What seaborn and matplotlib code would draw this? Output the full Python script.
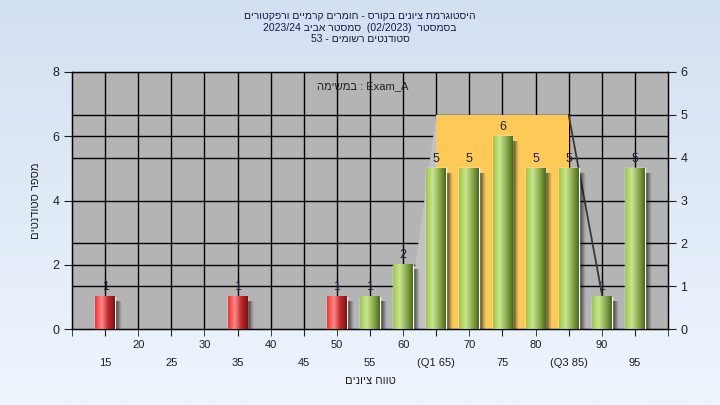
import numpy as np
import pandas as pd
import seaborn as sns
import matplotlib.pyplot as plt
from matplotlib.colors import LinearSegmentedColormap

# grade histogram values
grades = [15, 35, 50, 55, 60, 65, 70, 75, 80, 85, 90, 95]
counts = [1, 1, 1, 1, 2, 5, 5, 6, 5, 5, 1, 5]
pass_grade = 55

# box (quartiles) drawn on the right-hand axis scale
q1, q3 = 65, 85
box_top = 5
whisker_lo, whisker_hi = 60.5, 91

lower_ticks = [15, 25, 35, 45, 55, 65, 75, 85, 95]
lower_labels = ["15", "25", "35", "45", "55", "(Q1 65)", "75", "(Q3 85)", "95"]
upper_ticks = [10, 20, 30, 40, 50, 60, 70, 80, 90, 100]
upper_labels = ["", "20", "30", "40", "50", "60", "70", "80", "90", ""]

# hebrew text, already in visual (left-to-right) order
title_lines = [
    "היסטוגרמת ציונים בקורס - חומרים קרמיים ורפקטורים"[::-1],
    "2023/24 " + "אביב"[::-1] + " " + "סמסטר"[::-1] + "  (02/2023)  " + "בסמסטר"[::-1],
    "53 - " + "רשומים"[::-1] + " " + "סטודנטים"[::-1],
]
xlabel = "טווח ציונים"[::-1]
ylabel = "מספר סטודנטים"[::-1]
task_text = "במשימה"[::-1] + " : Exam_A"

sns.set_style("ticks")
plt.rcParams["font.family"] = ["Liberation Sans", "DejaVu Sans"]

fig = plt.figure(figsize=(7.2, 4.05), dpi=100)

# light blue gradient background
bg = fig.add_axes([0, 0, 1, 1], zorder=-5)
bg_cmap = LinearSegmentedColormap.from_list("bg", ["#d3e0f2", "#eef5fd"])
bg.imshow(np.linspace(0, 1, 256)[:, None], cmap=bg_cmap, aspect="auto", extent=[0, 1, 0, 1])
bg.axis("off")

ax = fig.add_axes([72 / 720, 1 - 329 / 405, 596 / 720, 257 / 405])
ax.set_facecolor("#b4b4b4")

df = pd.DataFrame({
    "grade": grades,
    "count": counts,
    "band": ["fail" if g < pass_grade else "pass" for g in grades],
})
sns.barplot(data=df, x="grade", y="count", hue="band", native_scale=True,
            palette={"fail": "#e03030", "pass": "#96bf4a"}, width=0.6,
            dodge=False, legend=False, ax=ax, zorder=4)
bars = list(ax.patches)

scale = 8 / 6  # right axis -> left axis

# grid lines (left ticks + right ticks)
for v in [2, 4, 6]:
    ax.axhline(v, color="black", lw=1, zorder=1)
for v in [1, 2, 4, 5]:
    ax.axhline(v * scale, color="black", lw=1, zorder=1)
for v in range(15, 100, 5):
    ax.axvline(v, color="black", lw=1, zorder=1)

# quartile box and whiskers
ax.fill([whisker_lo, q1, q1], [0, box_top * scale, 0], color="#c2c2c2", lw=0, zorder=2)
ax.fill([q1, q3, q3, q1], [0, 0, box_top * scale, box_top * scale], color="#fdca58", lw=0, zorder=2)
ax.plot([q3, whisker_hi], [box_top * scale, 0], color="#383838", lw=1.3, zorder=2.5)

green_cmap = LinearSegmentedColormap.from_list(
    "g", ["#9cc948", "#c9e592", "#8fae4e", "#4b6a22"], N=128)
red_cmap = LinearSegmentedColormap.from_list(
    "r", ["#ff2c2c", "#ff8a8a", "#c02a2a", "#761414"], N=128)

shadow = np.zeros((1, 32, 4))
shadow[..., 3] = np.linspace(0.8, 0, 32) ** 1.1

for p in bars:
    x0, w, h = p.get_x(), p.get_width(), p.get_height()
    if h <= 0:
        continue
    cmap = red_cmap if x0 + w / 2 < pass_grade else green_cmap
    ax.imshow(np.linspace(0, 1, 64)[None, :], cmap=cmap, aspect="auto",
              extent=[x0, x0 + w, 0, h], zorder=5, interpolation="bilinear")
    ax.imshow(shadow, aspect="auto", extent=[x0 + w, x0 + w + 1.0, 0, h - 0.15],
              zorder=3, interpolation="bilinear")

for g, c in zip(grades, counts):
    ax.annotate(str(c), (g, c), xytext=(0, 2.5), textcoords="offset points",
                ha="center", va="bottom", fontsize=9, color="#202038", zorder=6)

ax.set_xlim(10, 100)
ax.set_ylim(0, 8)
ax.set_yticks([0, 2, 4, 6, 8])
ax.set_xticks(lower_ticks)
ax.set_xticklabels(lower_labels)
ax.set_xticks(upper_ticks, minor=True)
ax.set_xticklabels(upper_labels, minor=True)
ax.tick_params(axis="x", which="major", length=5, pad=16, labelsize=8, colors="#202020")
ax.tick_params(axis="x", which="minor", length=5, pad=3, labelsize=8, colors="#202020")
ax.tick_params(axis="y", length=6, pad=3, labelsize=9, colors="#202020")
ax.set_xlabel("")
ax.set_ylabel(ylabel, fontsize=8, color="#202020")
ax.yaxis.set_label_coords(-0.052, 0.5)
for s in ax.spines.values():
    s.set_color("black")
    s.set_linewidth(1)

ax2 = ax.twinx()
ax2.set_ylim(0, 6)
ax2.set_yticks(range(7))
ax2.tick_params(axis="y", length=6, pad=3, labelsize=9, colors="#202020")
for s in ax2.spines.values():
    s.set_color("black")

ax.text(0.488, 0.9455, task_text, transform=ax.transAxes, ha="center", va="center",
        fontsize=8, color="#202020", zorder=6)

fig.text(0.5, 1 - 11 / 405, "\n".join(title_lines), ha="center", va="top",
         fontsize=7.5, linespacing=1.2, color="#1a1a40")
fig.text(370 / 720, 1 - 381 / 405, xlabel, ha="center", va="center",
         fontsize=8, color="#202020")

fig.savefig("out.png", dpi=100)
